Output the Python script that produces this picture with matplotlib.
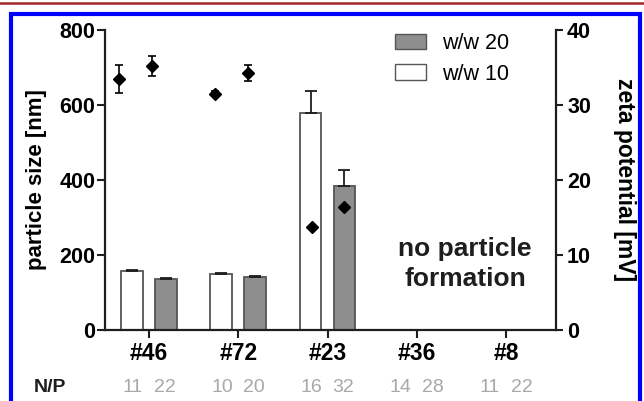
import numpy as np
import matplotlib.pyplot as plt
from matplotlib.lines import Line2D
from matplotlib.patches import Patch

plt.rcParams['font.family'] = ['Liberation Sans', 'DejaVu Sans']

# data
groups = ['#46', '#72', '#23', '#36', '#8']
size_ww10 = [157, 149, 578, 0, 0]
size_ww10_err = [4, 3, 60, 0, 0]
size_ww20 = [136, 142, 384, 0, 0]
size_ww20_err = [3, 3, 43, 0, 0]
zeta_groups = ['#46', '#72', '#23']
zeta_ww10 = [33.5, 31.5, 13.7]
zeta_ww10_err = [1.85, 0.35, 0.0]
zeta_ww20 = [35.2, 34.3, 16.4]
zeta_ww20_err = [1.3, 1.05, 0.0]
np_ww10 = ['11', '10', '16', '14', '11']
np_ww20 = ['22', '20', '32', '28', '22']

dark = '#1e1e1e'
grey = '#8e8e8e'

fig = plt.figure(figsize=(6.44, 4.01), dpi=100)
rect = [105 / 644, 1 - 330 / 401, 451 / 644, 300 / 401]
ax = fig.add_axes(rect)

x = np.arange(len(groups))
w = 0.245
off = 0.19
ax.bar(x - off, size_ww10, w, color='white', edgecolor='#555555', linewidth=1.3, zorder=2)
ax.bar(x + off, size_ww20, w, color=grey, edgecolor='#555555', linewidth=1.3, zorder=2)
ax.errorbar(x - off, size_ww10, yerr=[np.zeros(5), size_ww10_err], fmt='none',
            ecolor=dark, elinewidth=1.3, capsize=4.3, capthick=1.3, zorder=3)
ax.errorbar(x + off, size_ww20, yerr=[np.zeros(5), size_ww20_err], fmt='none',
            ecolor=dark, elinewidth=1.3, capsize=4.3, capthick=1.3, zorder=3)

ax.set_xlim(-0.493, 4.56)
ax.set_ylim(0, 800)
ax.set_yticks([0, 200, 400, 600, 800])
ax.set_xticks(x)
ax.set_xticklabels(groups, fontsize=16.5, fontweight='bold')
for lbl in ax.get_yticklabels():
    lbl.set_fontsize(15.5)
    lbl.set_fontweight('bold')
ax.spines['top'].set_visible(False)
ax.spines['right'].set_visible(False)
for s in ['left', 'bottom']:
    ax.spines[s].set_linewidth(1.6)
    ax.spines[s].set_color(dark)
ax.tick_params(axis='y', length=6, width=1.5, color=dark, pad=1)
ax.tick_params(axis='x', length=6, width=1.5, color=dark, pad=3)
ax.set_ylabel('particle size [nm]', fontsize=16, fontweight='bold', labelpad=9)

# N/P row
for i in range(len(groups)):
    ax.annotate(np_ww10[i], (x[i] - 0.18, 0), xycoords=('data', 'axes fraction'),
                xytext=(0, -57), textcoords='offset pixels', ha='center', va='center',
                fontsize=14, color='#a8a8a8')
    ax.annotate(np_ww20[i], (x[i] + 0.18, 0), xycoords=('data', 'axes fraction'),
                xytext=(0, -57), textcoords='offset pixels', ha='center', va='center',
                fontsize=14, color='#a8a8a8')
fig.text(50 / 644, 1 - 387 / 401, 'N/P', ha='center', va='center', fontsize=14,
         fontweight='bold', color=dark)

fig.text(465 / 644, 1 - 264 / 401, 'no particle\nformation', ha='center', va='center',
         fontsize=19, fontweight='bold', color=dark, linespacing=1.3)

ax.legend(handles=[Patch(facecolor=grey, edgecolor='#555555', label='w/w 20'),
                   Patch(facecolor='white', edgecolor='#555555', label='w/w 10')],
          loc='upper left', bbox_to_anchor=(0.6, 1.055), frameon=False, fontsize=15.5,
          handlelength=1.45, handleheight=0.7, labelspacing=0.45, handletextpad=0.75)

# zeta potential, own x positions
ax2 = fig.add_axes(rect)
ax2.patch.set_visible(False)
for s in ['left', 'top', 'bottom']:
    ax2.spines[s].set_visible(False)
ax2.spines['right'].set_linewidth(1.6)
ax2.spines['right'].set_color(dark)
ax2.xaxis.set_visible(False)
ax2.yaxis.tick_right()
ax2.yaxis.set_label_position('right')
zx = np.arange(len(zeta_groups))
zoff = 0.169
ax2.errorbar(zx - zoff, zeta_ww10, yerr=zeta_ww10_err, fmt='D', color='black',
             markersize=6, elinewidth=1.2, capsize=3, capthick=1.2, zorder=4)
ax2.errorbar(zx + zoff, zeta_ww20, yerr=zeta_ww20_err, fmt='D', color='black',
             markersize=6, elinewidth=1.2, capsize=3, capthick=1.2, zorder=4)
ax2.set_xlim(-0.317, 4.369)
ax2.set_ylim(0, 40)
ax2.set_yticks([0, 10, 20, 30, 40])
for lbl in ax2.get_yticklabels():
    lbl.set_fontsize(15.5)
    lbl.set_fontweight('bold')
ax2.tick_params(axis='y', length=5, width=1.5, color=dark, pad=3)
ax2.set_ylabel('zeta potential [mV]', fontsize=16.5, fontweight='bold', rotation=270,
               labelpad=32)

# page decorations: red rule and blue frame
fig.add_artist(Line2D([0, 1], [1 - 3 / 401] * 2, transform=fig.transFigure,
                      color='#a3282e', linewidth=1.8))
fig.add_artist(Line2D([11 / 644, 11 / 644, 640 / 644, 640 / 644],
                      [0, 1 - 14 / 401, 1 - 14 / 401, 0], transform=fig.transFigure,
                      color='#0000ff', linewidth=3, solid_joinstyle='miter'))

fig.savefig('out.png', dpi=100)
